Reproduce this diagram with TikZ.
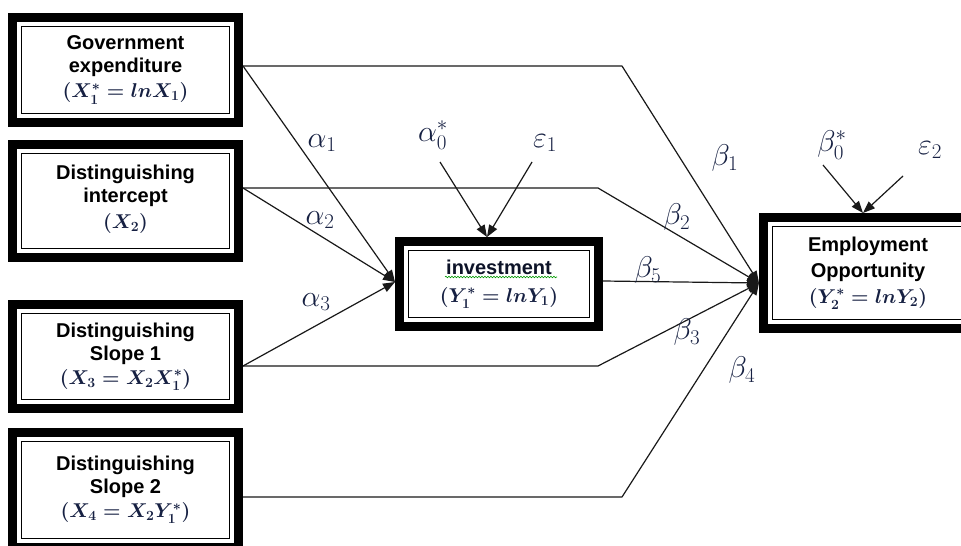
\documentclass[tikz,border=0pt]{standalone}
\usepackage{fix-cm}
\usepackage{fontspec}
\setsansfont{Liberation Sans}
\usetikzlibrary{arrows.meta,decorations.pathmorphing}
\definecolor{navy}{RGB}{22,32,66}
\newcommand\fml[1]{{\color{navy}\boldmath$#1$}}
\newcommand\innerrect[1]{\draw[line width=1.3pt] ([xshift=13.5pt,yshift=-13.5pt]#1.north west) rectangle ([xshift=-13.5pt,yshift=13.5pt]#1.south east);}
\begin{document}
\begin{tikzpicture}[x=1pt,y=-1pt,
  box/.style={draw=black, line width=9pt, fill=white, inner sep=0pt, align=center,
    font=\sffamily\bfseries\fontsize{20}{23}\selectfont},
  conn/.style={line width=1.2pt, draw=black!90, line join=round},
  arr/.style={conn, -{Triangle[length=12pt,width=9pt]}},
  glab/.style={text=navy, font=\fontsize{30}{30}\selectfont, inner sep=0pt},
]
\useasboundingbox[fill=white] (0,0) rectangle (961,546);

% boxes
\node[box, minimum width=226pt, minimum height=105pt] (b1) at (125.5,70)
  {Government\\expenditure\\[2pt]\fml{(X_1^{*}=lnX_1)}};
\innerrect{b1}
\node[box, minimum width=226pt, minimum height=113pt] (b2) at (125.5,201)
  {Distinguishing\\intercept\\[3pt]\fml{(X_2)}\\[-15pt]{}};
\innerrect{b2}
\node[box, minimum width=226pt, minimum height=104pt] (b3) at (125.5,356.5)
  {Distinguishing\\Slope 1\\[1pt]\fml{(X_3=X_2X_1^{*})}};
\innerrect{b3}
\node[box, minimum width=226pt, minimum height=115pt] (b4) at (125.5,490)
  {Distinguishing\\Slope 2\\[1pt]\fml{(X_4=X_2Y_1^{*})}};
\innerrect{b4}
\node[box, minimum width=199pt, minimum height=85pt] (inv) at (499,284)
  {\color{navy!60!black}investment\\[5pt]\fml{(Y_1^{*}=lnY_1)}};
\innerrect{inv}
\node[box, minimum width=209pt, minimum height=111pt] (emp) at (868,273)
  {Employment\\[3pt]Opportunity\\[3pt]\fml{(Y_2^{*}=lnY_2)}};
\innerrect{emp}

\draw[green!60!black, line width=0.6pt, decorate,
  decoration={snake, amplitude=0.8pt, segment length=3pt}] (445,277) -- (557,277);

% coordinates
\coordinate (s1) at ([yshift=4pt]b1.east);
\coordinate (s2) at ([yshift=13pt]b2.east);
\coordinate (s3) at ([yshift=-9.5pt]b3.east);
\coordinate (s4) at ([yshift=-7pt]b4.east);
\coordinate (c1) at (622,66);
\coordinate (c2) at (598,188);
\coordinate (c3) at (598,366);
\coordinate (c4) at (622,497);
\coordinate (iT) at ([yshift=2pt]inv.west);
\coordinate (eT) at ([yshift=-10pt]emp.west);
\coordinate (iTop) at ([xshift=-12pt]inv.north);
\coordinate (eTop) at ([xshift=-5pt]emp.north);
\coordinate (a0s) at (440,162);
\coordinate (e1s) at (532,162);
\coordinate (b0s) at (823,165);
\coordinate (e2s) at (903,176);

% connectors
\draw[arr] (s1) -- (c1) -- (eT);
\draw[arr] (s1) -- (iT);
\draw[arr] (s2) -- (c2) -- (eT);
\draw[arr] (s2) -- (iT);
\draw[arr] (s3) -- (c3) -- (eT);
\draw[arr] (s3) -- (iT);
\draw[arr] (s4) -- (c4) -- (eT);
\draw[arr] ([yshift=3pt]inv.east) -- (eT);
\draw[arr] (a0s) -- (iTop);
\draw[arr] (e1s) -- (iTop);
\draw[arr] (b0s) -- (eTop);
\draw[arr] (e2s) -- (eTop);

% labels
\node[glab] (la1) at (322,143) {$\alpha_1$};
\node[glab] (la2) at (320,220) {$\alpha_2$};
\node[glab] (la3) at (316,302) {$\alpha_3$};
\node[glab] (la0) at (433,135) {$\alpha_0^{*}$};
\node[glab] (le1) at (545,143) {$\varepsilon_1$};
\node[glab] (lb1) at (725,158) {$\beta_1$};
\node[glab] (lb2) at (677,217) {$\beta_2$};
\node[glab] (lb5) at (648,270) {$\beta_5$};
\node[glab] (lb3) at (687,332) {$\beta_3$};
\node[glab] (lb4) at (742,370) {$\beta_4$};
\node[glab] (lb0) at (832,145) {$\beta_0^{*}$};
\node[glab] (le2) at (930,150) {$\varepsilon_2$};
\end{tikzpicture}
\end{document}
